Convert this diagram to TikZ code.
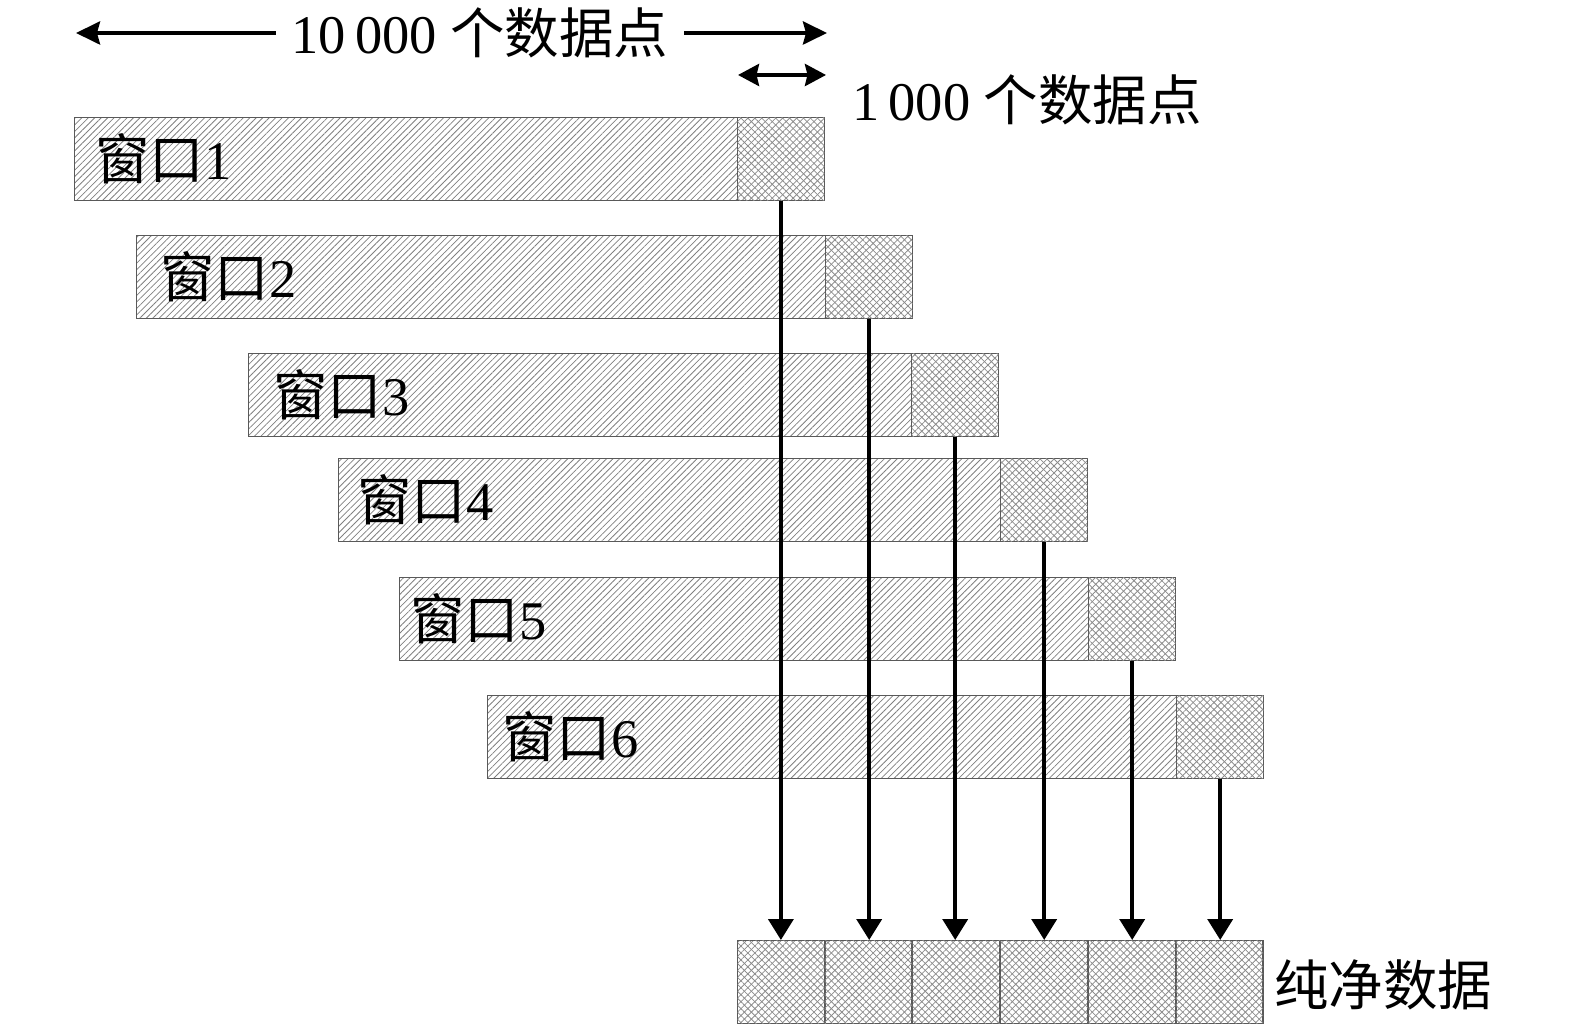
\documentclass[tikz,border=0pt]{standalone}
\usepackage{fontspec}
\setmainfont{Liberation Serif}
\newfontfamily\cjk{Noto Sans CJK SC}
\usetikzlibrary{arrows.meta}
\usetikzlibrary{patterns.meta}

\begin{document}
\begin{tikzpicture}[x=0.02cm, y=-0.02cm,
  font=\fontsize{31}{37}\selectfont,
  win/.style={draw=black!65, line width=0.8pt, inner sep=0pt, anchor=north west,
    minimum height=1.66cm,
    pattern={Lines[angle=45, distance=2.6pt, line width=0.45pt]}, pattern color=black!50},
  cross/.style={draw=black!65, line width=0.8pt, inner sep=0pt, anchor=north west,
    minimum height=1.66cm, minimum width=1.74cm,
    pattern={Lines[angle=45, distance=2.8pt, line width=0.45pt]}, pattern color=black!45,
    postaction={pattern={Lines[angle=-45, distance=2.8pt, line width=0.45pt]}, pattern color=black!45}},
  lbl/.style={anchor=west, inner sep=0pt},
  arr/.style={black, line width=2.2pt, -{Triangle[length=0.42cm, width=0.5cm]}}]
\useasboundingbox (0,0) rectangle (1575,1033);

% overall width
\coordinate (L) at (76,33);
\coordinate (R) at (827,33);
\draw[black, line width=2.2pt, {Stealth[length=0.48cm, width=0.46cm, inset=0.06cm]}-{Stealth[length=0.48cm, width=0.46cm, inset=0.06cm]}] (L) -- (R);
\node[fill=white, inner xsep=9pt] (tot) at (480,33) {10\,000 {\cjk 个数据点}};

% step width
\coordinate (SL) at (738,75);
\coordinate (SR) at (826,75);
\draw[black, line width=2.2pt, {Stealth[length=0.42cm, width=0.44cm, inset=0.05cm]}-{Stealth[length=0.42cm, width=0.44cm, inset=0.05cm]}] (SL) -- (SR);
\node[lbl] (step) at (852,100) {1\,000 {\cjk 个数据点}};

% windows
\foreach \i/\xl/\xc/\yt/\dx in {1/74/737/117/21, 2/136/825/235/24, 3/248/911/353/25,
                                4/338/1000/458/19, 5/399/1088/577/11, 6/487/1176/695/15}{
  \pgfmathsetmacro{\winw}{0.02*(\xc-\xl)}
  \node[win, minimum width=\winw cm] (w\i) at (\xl,\yt) {};
  \node[cross] (c\i) at (\xc,\yt) {};
  \node[lbl] (l\i) at ([xshift=\dx*0.02cm]w\i.west) {{\cjk 窗口}\i};
}

% clean data
\foreach \i/\xb in {1/737, 2/824, 3/912, 4/1000, 5/1088, 6/1175}{
  \node[cross, minimum width=1.75cm] (b\i) at (\xb,940) {};
}
\node[lbl] (clean) at (1274,985) {\cjk 纯净数据};

\foreach \i in {1,...,6}{
  \draw[arr] (c\i.south) -- (c\i.south |- b\i.north);
}

\end{tikzpicture}
\end{document}
